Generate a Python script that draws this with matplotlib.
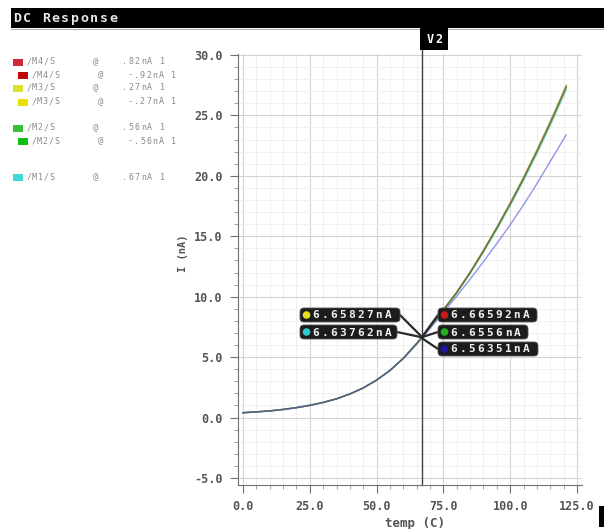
import matplotlib
matplotlib.use("Agg")
import matplotlib.pyplot as plt
from matplotlib.patches import Rectangle, FancyBboxPatch, Circle
from matplotlib.transforms import Affine2D
from matplotlib.ticker import MultipleLocator, FormatStrFormatter

# ---------------- data ----------------
temp = [0, 5, 10, 15, 20, 25, 30, 35, 40, 45, 50, 55, 60, 65, 67,
        70, 75, 80, 85, 90, 95, 100, 105, 110, 115, 121]
i_m4 = [0.40, 0.47, 0.55, 0.67, 0.82, 1.01, 1.25, 1.55, 1.95, 2.45, 3.10, 3.90, 4.90, 6.14, 6.666,
        7.52, 8.93, 10.38, 12.03, 13.83, 15.74, 17.75, 19.86, 22.12, 24.48, 27.48]
i_m3 = [0.40, 0.47, 0.55, 0.67, 0.82, 1.01, 1.25, 1.55, 1.95, 2.45, 3.10, 3.90, 4.90, 6.13, 6.658,
        7.51, 8.91, 10.36, 12.00, 13.80, 15.70, 17.70, 19.80, 22.05, 24.40, 27.40]
i_m2 = [0.40, 0.47, 0.55, 0.67, 0.82, 1.01, 1.25, 1.55, 1.95, 2.45, 3.10, 3.90, 4.90, 6.13, 6.656,
        7.50, 8.90, 10.34, 11.97, 13.76, 15.66, 17.65, 19.74, 21.98, 24.32, 27.30]
i_m1 = [0.40, 0.47, 0.55, 0.67, 0.82, 1.01, 1.25, 1.55, 1.95, 2.45, 3.10, 3.90, 4.90, 6.12, 6.638,
        7.48, 8.86, 10.29, 11.91, 13.68, 15.56, 17.53, 19.60, 21.82, 24.14, 27.10]
i_lo = [0.40, 0.47, 0.55, 0.67, 0.82, 1.01, 1.25, 1.55, 1.95, 2.45, 3.09, 3.89, 4.88, 6.06, 6.564,
        7.37, 8.70, 10.05, 11.45, 12.90, 14.40, 15.95, 17.60, 19.35, 21.20, 23.40]

cursor_x = 67
cursor_name = "V2"
left_markers = [("6.65827nA", 6.65827, "#e6e020"), ("6.63762nA", 6.63762, "#30c8c8")]
right_markers = [("6.66592nA", 6.66592, "#c81818"), ("6.6556nA", 6.6556, "#20b020"),
                 ("6.56351nA", 6.56351, "#1a1aa0")]

legend_names = ["/M4/S", "/M4/S", "/M3/S", "/M3/S", "/M2/S", "/M2/S", "/M1/S"]
legend_vals = [".82nA 1", "-.92nA 1", ".27nA 1", "-.27nA 1", ".56nA 1", "-.56nA 1", ".67nA 1"]
legend_cols = ["#d02838", "#c00808", "#e0e030", "#e8e000", "#38c038", "#10c010", "#40d8d8"]

x_ticks = [0, 25, 50, 75, 100, 125]
y_ticks = [-5, 0, 5, 10, 15, 20, 25, 30]

# ---------------- figure ----------------
W, H = 604, 529
fig = plt.figure(figsize=(W / 100, H / 100), dpi=100)
fig.patch.set_facecolor("white")
pix = Affine2D().scale(1 / W, -1 / H).translate(0, 1) + fig.transFigure

MONO = "DejaVu Sans Mono"

def spaced(x, y, s, adv, size, color, weight="bold", zorder=5):
    for k, ch in enumerate(s):
        fig.text(x + k * adv, y, ch, transform=pix, ha="center", va="center",
                 fontsize=size, family=MONO, color=color, weight=weight, zorder=zorder)

ax = fig.add_axes([238 / W, 1 - 485 / H, (582 - 238) / W, (485 - 54) / H])
ax.set_xlim(-1.87, 126.87)
ax.set_ylim(-5.58, 30.08)

ax.plot(temp, i_m1, color="#30c8c8", lw=1.1, alpha=0.45)
ax.plot(temp, i_m4, color="#902020", lw=1.1, alpha=0.55)
ax.plot(temp, i_m3, color="#a0a000", lw=1.1, alpha=0.55)
ax.plot(temp, i_m2, color="#2a6a2a", lw=1.1, alpha=0.6)
ax.plot(temp, i_lo, color="#4a50d8", lw=1.0, alpha=0.6)

ax.xaxis.set_minor_locator(MultipleLocator(5))
ax.yaxis.set_minor_locator(MultipleLocator(1))
ax.set_xticks(x_ticks)
ax.set_yticks(y_ticks)
ax.xaxis.set_major_formatter(FormatStrFormatter("%.1f"))
ax.yaxis.set_major_formatter(FormatStrFormatter("%.1f"))
ax.grid(which="major", color="#d4d4d4", lw=0.8)
ax.grid(which="minor", color="#eeeeee", lw=0.6)
ax.set_axisbelow(True)
for s in ["top", "right"]:
    ax.spines[s].set_visible(False)
for s in ["left", "bottom"]:
    ax.spines[s].set_color("#707070")
ax.tick_params(which="major", direction="out", length=6, color="#707070", pad=5,
               labelsize=8.5, labelcolor="#555555")
ax.tick_params(which="minor", direction="out", length=3, color="#909090")
for lab in ax.get_xticklabels() + ax.get_yticklabels():
    lab.set_family(MONO)
    lab.set_weight("bold")

ax.set_xlabel("temp (C)", family=MONO, weight="bold", fontsize=9, color="#555555")
ax.set_ylabel("I (nA)", family=MONO, weight="bold", fontsize=7.5, color="#555555")
ax.xaxis.set_label_coords((415 - 238) / 344, -(517 - 485) / 431)
ax.yaxis.set_label_coords((188 - 238) / 344, (485 - 253) / 431)

# cursor
ax.axvline(cursor_x, ymin=0, ymax=1.02, color="#404040", lw=1.0, clip_on=False)

# title bar
fig.patches.append(Rectangle((11, 8), W - 11, 20, transform=pix, fc="black", ec="none", zorder=1))
fig.patches.append(Rectangle((11, 28.5), W - 11, 1.2, transform=pix, fc="#b0b0b0", ec="none", zorder=1))
spaced(17, 18.5, "DC Response", 9.6, 9.5, "#e8e8e8")

# cursor tag
fig.patches.append(Rectangle((420, 28), 28, 22, transform=pix, fc="black", ec="none", zorder=2))
spaced(430, 39.5, cursor_name, 8.5, 8.5, "white")

# marker boxes
def marker_box(x0, y0, w, text, val, dot, side):
    h = 14
    fig.patches.append(FancyBboxPatch((x0, y0), w, h, transform=pix,
                                      boxstyle="round,pad=0,rounding_size=4",
                                      fc="#1c1c1c", ec="#555555", lw=0.6, zorder=4))
    fig.patches.append(Circle((x0 + 6.5, y0 + h / 2), 3.8, transform=pix, fc=dot, ec="none", zorder=6))
    spaced(x0 + 16, y0 + h / 2 + 0.5, text, 9.0, 8, "#f0f0f0", zorder=6)
    ex = x0 + w if side == "left" else x0
    ax.annotate("", xy=(cursor_x, val), xycoords="data", xytext=(ex, y0 + h / 2), textcoords=pix,
                arrowprops=dict(arrowstyle="-", color="#2a2a2a", lw=1.6, shrinkA=0, shrinkB=0))

lb = [(300, 308, 100), (300, 325, 97)]
for (t, v, c), (x0, y0, w) in zip(left_markers, lb):
    marker_box(x0, y0, w, t, v, c, "left")
rb = [(438, 308, 99), (438, 325, 90), (438, 342, 100)]
for (t, v, c), (x0, y0, w) in zip(right_markers, rb):
    marker_box(x0, y0, w, t, v, c, "right")

# legend
rows_y = [62, 75, 88, 102, 128, 141, 177]
indent = [0, 5, 0, 5, 0, 5, 0]
for name, val, col, y, ind in zip(legend_names, legend_vals, legend_cols, rows_y, indent):
    fig.patches.append(Rectangle((13 + ind, y - 3.5), 10, 7, transform=pix, fc=col, ec="none", zorder=2))
    spaced(29 + ind, y, name, 5.6, 6, "#8a8a8a", weight="normal")
    spaced(96 + ind, y, "@", 5.6, 6.5, "#8a8a8a", weight="normal")
    spaced(125 + ind, y, val, 6.2, 6, "#8a8a8a", weight="normal")

# small bar bottom-right
fig.patches.append(Rectangle((599, 506), 5, 21, transform=pix, fc="black", ec="none", zorder=2))

fig.savefig("out.png", dpi=100, facecolor="white")
